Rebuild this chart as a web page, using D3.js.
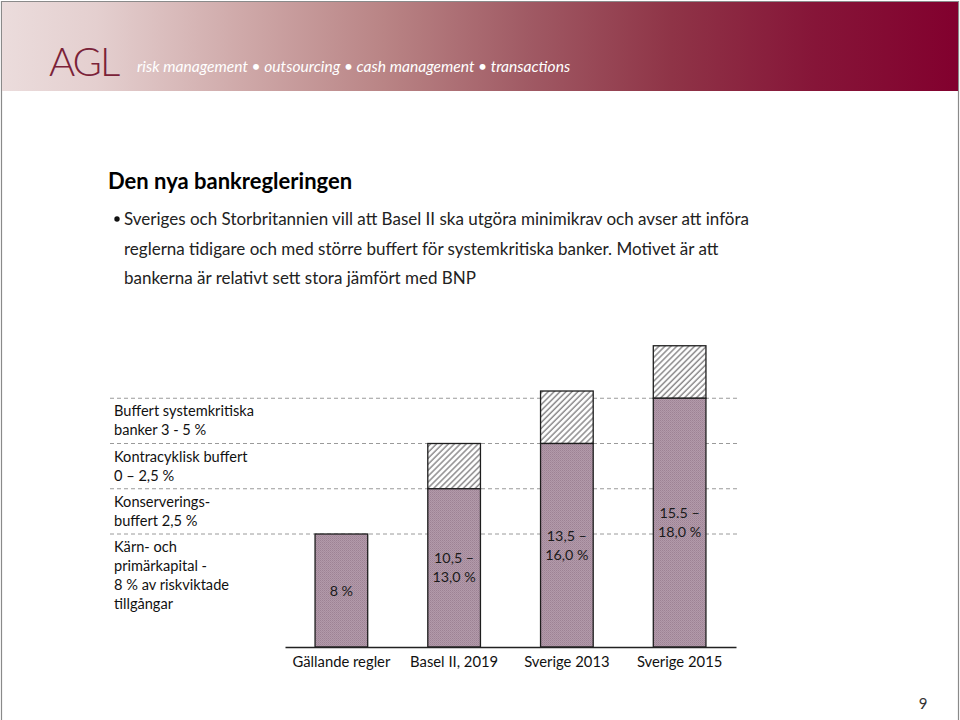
<!DOCTYPE html>
<html><head><meta charset="utf-8">
<script src="https://cdn.jsdelivr.net/npm/d3@7/dist/d3.min.js"></script>
<style>html,body{margin:0;padding:0;background:#fff;}svg{display:block;}</style>
</head><body>
<script>
// ---- data ----
const categories = ["Gällande regler", "Basel II, 2019", "Sverige 2013", "Sverige 2015"];
const coreTop = [8, 10.5, 13.0, 15.5];      // top of solid (filled) part, schematic
const bufferTop = [8, 13.0, 15.9, 18.4];    // top of hatched part, schematic
const barLabels = [["8 %"], ["10,5 –", "13,0 %"], ["13,5 –", "16,0 %"], ["15.5 –", "18,0 %"]];
const gridLevels = [15.5, 13.0, 10.5, 8];
const legendLabels = [
  ["Buffert systemkritiska", "banker 3 - 5 %"],
  ["Kontracyklisk buffert", "0 – 2,5 %"],
  ["Konserverings-", "buffert 2,5 %"],
  ["Kärn- och", "primärkapital -", "8 % av riskviktade", "tillgångar"]
];
const title = "Den nya bankregleringen";
const bulletLines = [
  "Sveriges och Storbritannien vill att Basel II ska utgöra minimikrav och avser att införa",
  "reglerna tidigare och med större buffert för systemkritiska banker. Motivet är att",
  "bankerna är relativt sett stora jämfört med BNP"
];
const tagline = "risk management • outsourcing • cash management • transactions";
const pageNumber = "9";

const W = 960, H = 720;
const FONT = "Lato, 'Open Sans', sans-serif";
const svg = d3.select("body").append("svg").attr("width", W).attr("height", H);
const defs = svg.append("defs");

// header gradient
const grad = defs.append("linearGradient").attr("id", "hdr").attr("x1", "0").attr("x2", "1").attr("y1", "0").attr("y2", "0");
[[0, "#ebdcdc"], [0.1, "#e4cfcf"], [0.25, "#cfa9a9"], [0.4, "#b98485"], [0.55, "#a05a64"], [0.7, "#8f3447"], [0.85, "#861538"], [1, "#82002e"]]
  .forEach(([o, c]) => grad.append("stop").attr("offset", o).attr("stop-color", c));

// textured mauve fill
const dots = defs.append("pattern").attr("id", "mauve").attr("patternUnits", "userSpaceOnUse").attr("width", 2).attr("height", 2);
dots.append("rect").attr("width", 2).attr("height", 2).attr("fill", "#b29aaa");
dots.append("rect").attr("width", 1).attr("height", 1).attr("fill", "#9d8294");
dots.append("rect").attr("x", 1).attr("y", 1).attr("width", 1).attr("height", 1).attr("fill", "#a68c9d");

// diagonal hatch
const hatch = defs.append("pattern").attr("id", "hatch").attr("patternUnits", "userSpaceOnUse")
  .attr("width", 4.2).attr("height", 4.2).attr("patternTransform", "rotate(45)");
hatch.append("rect").attr("width", 4.2).attr("height", 4.2).attr("fill", "#fff");
hatch.append("line").attr("x1", 1).attr("x2", 1).attr("y1", 0).attr("y2", 4.2).attr("stroke", "#8c8a8c").attr("stroke-width", 1.5);

// slide frame
svg.append("path").attr("d", `M1.5,${H} V1.5 H958.5 V${H}`).attr("fill", "none").attr("stroke", "#8a8a8a").attr("stroke-width", 1.2);

// header
svg.append("rect").attr("x", 2).attr("y", 2).attr("width", 956).attr("height", 89).attr("fill", "url(#hdr)");
svg.append("text").attr("x", 49).attr("y", 76).attr("font-family", FONT).attr("font-weight", 300)
  .attr("font-size", 40).attr("letter-spacing", -2).attr("fill", "#7a2238").text("AGL");
svg.append("text").attr("x", 137).attr("y", 72).attr("font-family", FONT).attr("font-style", "italic")
  .attr("font-size", 15.6).attr("fill", "#fff").text(tagline);

// title & bullets
svg.append("text").attr("x", 108).attr("y", 189).attr("font-family", FONT).attr("font-weight", 700)
  .attr("font-size", 22).attr("fill", "#000").text(title);
svg.append("circle").attr("cx", 117).attr("cy", 219).attr("r", 2.7).attr("fill", "#111");
svg.selectAll("text.bullet").data(bulletLines).join("text").attr("class", "bullet")
  .attr("x", 124).attr("y", (d, i) => 225 + i * 29.5)
  .attr("font-family", FONT).attr("font-size", 17).attr("fill", "#222").text(d => d);

// scales
const x = d3.scaleBand().domain(categories).range([285, 736]).paddingInner(0.533).paddingOuter(0.2665);
const y = d3.scaleLinear().domain([0, 8, 18]).range([647, 534, 353]);

// gridlines
svg.append("g").selectAll("line").data(gridLevels).join("line")
  .attr("x1", 110).attr("x2", 737).attr("y1", d => y(d)).attr("y2", d => y(d))
  .attr("stroke", "#9a9a9a").attr("stroke-width", 1).attr("stroke-dasharray", "4,3");

// legend text
const lg = svg.append("g");
legendLabels.forEach((lines, i) => {
  lg.selectAll(null).data(lines).join("text")
    .attr("x", 114).attr("y", (d, j) => y(gridLevels[i]) + 18 + j * 19)
    .attr("font-family", FONT).attr("font-size", 14.6).attr("fill", "#111").text(d => d);
});

// bars
const bars = svg.append("g");
categories.forEach((c, i) => {
  if (bufferTop[i] > coreTop[i]) {
    bars.append("rect").attr("x", x(c)).attr("width", x.bandwidth())
      .attr("y", y(bufferTop[i])).attr("height", y(coreTop[i]) - y(bufferTop[i]))
      .attr("fill", "url(#hatch)").attr("stroke", "#1e1e1e").attr("stroke-width", 1.3);
  }
  bars.append("rect").attr("x", x(c)).attr("width", x.bandwidth())
    .attr("y", y(coreTop[i])).attr("height", y(0) - y(coreTop[i]))
    .attr("fill", "url(#mauve)").attr("stroke", "#1e1e1e").attr("stroke-width", 1.3);
  const mid = (y(coreTop[i]) + y(0)) / 2;
  const n = barLabels[i].length;
  bars.selectAll(null).data(barLabels[i]).join("text")
    .attr("x", x(c) + x.bandwidth() / 2)
    .attr("y", (d, j) => mid + (j - (n - 1) / 2) * 19 + 5)
    .attr("text-anchor", "middle").attr("font-family", FONT).attr("font-size", 14.3)
    .attr("fill", "#1a1a1a").text(d => d);
});

// x axis
const ax = svg.append("g").attr("transform", "translate(0,647)")
  .call(d3.axisBottom(x).tickSize(0).tickPadding(9));
ax.select(".domain").attr("stroke", "#222").attr("stroke-width", 1.5);
ax.selectAll("text").attr("font-family", FONT).attr("font-size", 14.8).attr("fill", "#111");

// page number
svg.append("text").attr("x", 923).attr("y", 709).attr("text-anchor", "middle")
  .attr("font-family", FONT).attr("font-size", 15).attr("fill", "#333").text(pageNumber);
</script>
</body></html>
